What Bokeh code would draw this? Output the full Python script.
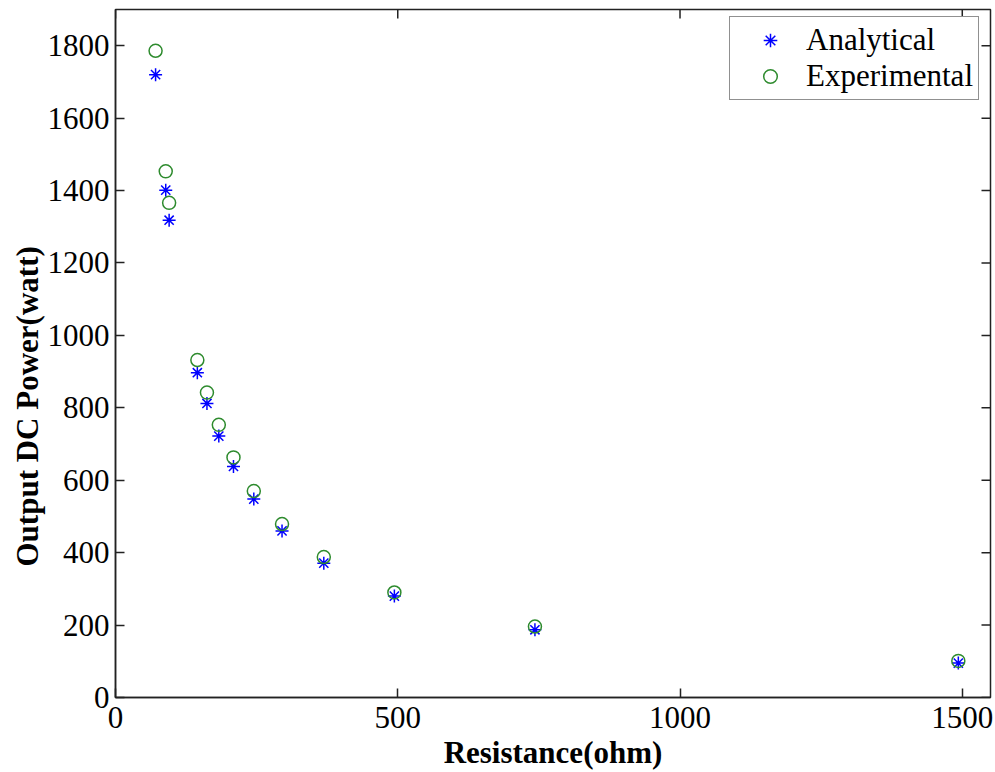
import math
from bokeh.plotting import figure
from bokeh.models import Range1d, FixedTicker, Title
from bokeh.embed import file_html
from bokeh.resources import INLINE

# Data
resistance = [71, 89, 95, 145, 162, 183, 209, 245, 295, 369, 494, 743, 1493]
power_analytical = [1720, 1401, 1318, 897, 812, 722, 638, 548, 460, 371, 280, 187, 95]
power_experimental = [1786, 1453, 1366, 932, 842, 753, 663, 570, 479, 388, 290, 196, 101]

x_ticks = [0, 500, 1000, 1500]
y_ticks = [0, 200, 400, 600, 800, 1000, 1200, 1400, 1600, 1800]
x_max = 1550
y_max = 1900

FONT = "Liberation Serif"
EDGE = "#222222"

p = figure(width=995, height=772, output_backend="svg", toolbar_location=None,
           x_range=Range1d(0, x_max), y_range=Range1d(0, y_max),
           min_border_left=115, min_border_right=5, min_border_top=9, min_border_bottom=74)
p.grid.visible = False
p.outline_line_color = EDGE
p.outline_line_width = 1.5
p.background_fill_color = "white"
p.border_fill_color = "white"

# mirrored inward tick marks on the top and right edges (box style)
p.ray(x=x_ticks, y=[y_max] * len(x_ticks), length=9, length_units="screen",
      angle=-math.pi / 2, line_color=EDGE, line_width=1.5)
p.ray(x=[x_max] * len(y_ticks), y=y_ticks, length=9, length_units="screen",
      angle=math.pi, line_color=EDGE, line_width=1.5)

p.scatter(resistance, power_analytical, marker="asterisk", size=13,
          line_color="#0000ff", line_width=1.5, legend_label="Analytical")
p.scatter(resistance, power_experimental, marker="circle", size=13,
          fill_color=None, line_color="#2e8b2e", line_width=1.5, legend_label="Experimental")

for ax in (p.xaxis[0], p.yaxis[0]):
    ax.major_tick_in = 9
    ax.major_tick_out = 0
    ax.minor_tick_in = 0
    ax.minor_tick_out = 0
    ax.axis_line_color = EDGE
    ax.axis_line_width = 1.5
    ax.major_tick_line_color = EDGE
    ax.major_tick_line_width = 1.5
    ax.major_label_text_font = FONT
    ax.major_label_text_font_size = "31px"
    ax.major_label_text_color = "black"

p.xaxis[0].ticker = FixedTicker(ticks=x_ticks)
p.yaxis[0].ticker = FixedTicker(ticks=y_ticks)
p.xaxis[0].major_label_standoff = 9
p.yaxis[0].major_label_standoff = 6

xa = p.xaxis[0]
xa.axis_label = "Resistance(ohm)"
xa.axis_label_standoff = 4
xa.axis_label_text_font = FONT
xa.axis_label_text_font_size = "31px"
xa.axis_label_text_font_style = "bold"
xa.axis_label_text_color = "black"

ytitle = Title(text="Output DC Power(watt)", align="left", offset=131,
               text_font=FONT, text_font_size="31px", text_font_style="bold",
               text_color="black", standoff=0)
p.add_layout(ytitle, "left")

lg = p.legend[0]
lg.location = (614, 597)
lg.margin = 0
lg.padding = 5
lg.spacing = -2
lg.label_height = 34
lg.glyph_height = 34
lg.glyph_width = 70
lg.label_standoff = 1
lg.label_text_font = FONT
lg.label_text_font_size = "31px"
lg.label_text_color = "black"
lg.border_line_color = EDGE
lg.border_line_width = 1.5
lg.background_fill_alpha = 1.0

open("out.html", "w").write(file_html(p, INLINE))
